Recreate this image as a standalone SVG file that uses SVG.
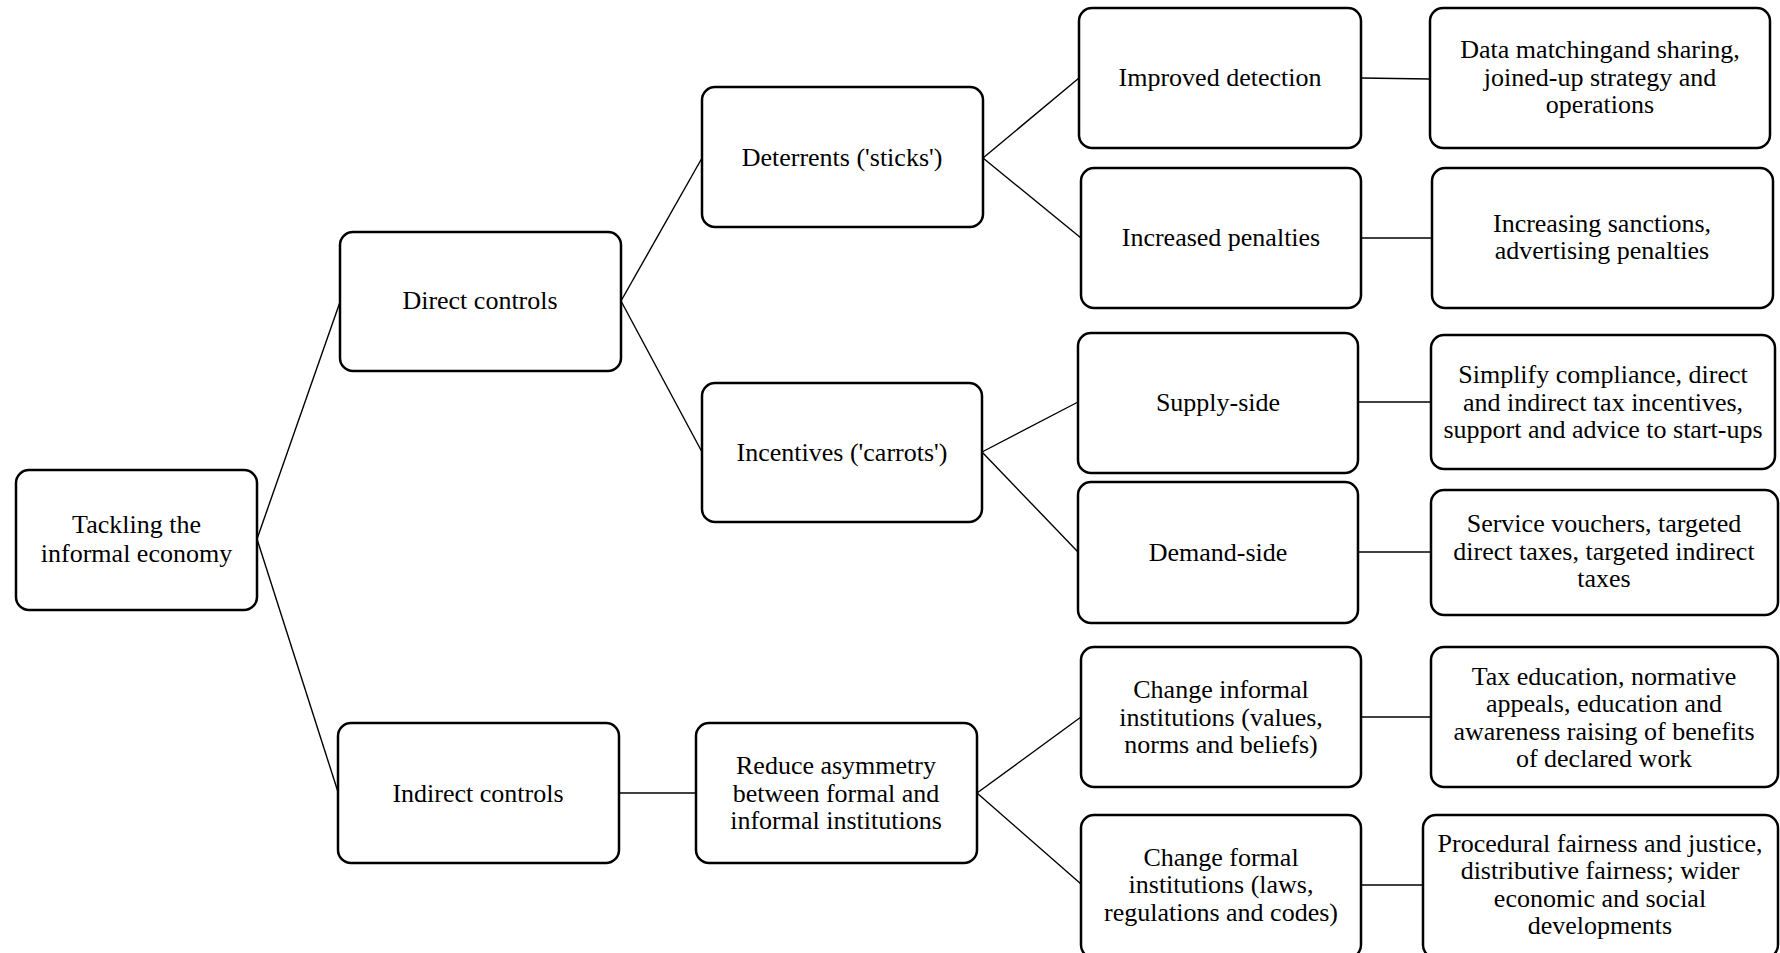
<svg xmlns="http://www.w3.org/2000/svg" width="1780" height="953" viewBox="0 0 1780 953">
<style>
.box{fill:#fff;stroke:#000;stroke-width:2.5}
.ln{stroke:#000;stroke-width:1.4;fill:none}
text{font-family:"Liberation Serif","Times New Roman",serif;font-size:26px;fill:#000;text-anchor:middle}
</style>
<rect width="1780" height="953" fill="#fff"/>
<g id="connectors">
<line class="ln" x1="257" y1="539" x2="340" y2="302"/>
<line class="ln" x1="257" y1="539" x2="338" y2="792"/>
<line class="ln" x1="621" y1="301" x2="702" y2="158"/>
<line class="ln" x1="621" y1="301" x2="702" y2="452"/>
<line class="ln" x1="619" y1="793" x2="696" y2="793"/>
<line class="ln" x1="983" y1="158" x2="1079" y2="78"/>
<line class="ln" x1="983" y1="158" x2="1081" y2="238"/>
<line class="ln" x1="982" y1="452" x2="1078" y2="402"/>
<line class="ln" x1="982" y1="452" x2="1078" y2="552"/>
<line class="ln" x1="977" y1="793" x2="1081" y2="717"/>
<line class="ln" x1="977" y1="793" x2="1081" y2="884"/>
<line class="ln" x1="1361" y1="78" x2="1430" y2="79"/>
<line class="ln" x1="1361" y1="238" x2="1432" y2="238"/>
<line class="ln" x1="1358" y1="402" x2="1431" y2="402"/>
<line class="ln" x1="1358" y1="552" x2="1431" y2="552"/>
<line class="ln" x1="1361" y1="717" x2="1431" y2="717"/>
<line class="ln" x1="1361" y1="885" x2="1423" y2="885"/>
</g>
<g id="n-tackling">
<rect class="box" x="16" y="470" width="241" height="140" rx="13"/>
<text x="136.5" y="533">Tackling the</text>
<text x="136.5" y="562">informal economy</text>
</g>
<g id="n-direct">
<rect class="box" x="340" y="232" width="281" height="139" rx="13"/>
<text x="480" y="309">Direct controls</text>
</g>
<g id="n-indirect">
<rect class="box" x="338" y="723" width="281" height="140" rx="13"/>
<text x="478" y="802">Indirect controls</text>
</g>
<g id="n-deterrents">
<rect class="box" x="702" y="87" width="281" height="140" rx="13"/>
<text x="842" y="166">Deterrents ('sticks')</text>
</g>
<g id="n-incentives">
<rect class="box" x="702" y="383" width="280" height="139" rx="13"/>
<text x="842" y="461">Incentives ('carrots')</text>
</g>
<g id="n-reduce">
<rect class="box" x="696" y="723" width="281" height="140" rx="13"/>
<text x="836" y="774">Reduce asymmetry</text>
<text x="836" y="802">between formal and</text>
<text x="836" y="829">informal institutions</text>
</g>
<g id="n-improved">
<rect class="box" x="1079" y="8" width="282" height="140" rx="13"/>
<text x="1220" y="86">Improved detection</text>
</g>
<g id="n-increased">
<rect class="box" x="1081" y="168" width="280" height="140" rx="13"/>
<text x="1221" y="246">Increased penalties</text>
</g>
<g id="n-supply">
<rect class="box" x="1078" y="333" width="280" height="140" rx="13"/>
<text x="1218" y="411">Supply-side</text>
</g>
<g id="n-demand">
<rect class="box" x="1078" y="482" width="280" height="141" rx="13"/>
<text x="1218" y="561">Demand-side</text>
</g>
<g id="n-change-informal">
<rect class="box" x="1081" y="647" width="280" height="140" rx="13"/>
<text x="1221" y="698">Change informal</text>
<text x="1221" y="726">institutions (values,</text>
<text x="1221" y="753">norms and beliefs)</text>
</g>
<g id="n-change-formal">
<rect class="box" x="1081" y="815" width="280" height="143" rx="13"/>
<text x="1221" y="866">Change formal</text>
<text x="1221" y="893">institutions (laws,</text>
<text x="1221" y="921">regulations and codes)</text>
</g>
<g id="n-data">
<rect class="box" x="1430" y="8" width="340" height="140" rx="13"/>
<text x="1600" y="58">Data matchingand sharing,</text>
<text x="1600" y="86">joined-up strategy and</text>
<text x="1600" y="113">operations</text>
</g>
<g id="n-sanctions">
<rect class="box" x="1432" y="168" width="341" height="140" rx="13"/>
<text x="1602" y="232">Increasing sanctions,</text>
<text x="1602" y="259">advertising penalties</text>
</g>
<g id="n-simplify">
<rect class="box" x="1431" y="335" width="344" height="134" rx="13"/>
<text x="1603" y="383">Simplify compliance, direct</text>
<text x="1603" y="411">and indirect tax incentives,</text>
<text x="1603" y="438">support and advice to start-ups</text>
</g>
<g id="n-service">
<rect class="box" x="1431" y="490" width="347" height="125" rx="13"/>
<text x="1604" y="532">Service vouchers, targeted</text>
<text x="1604" y="560">direct taxes, targeted indirect</text>
<text x="1604" y="587">taxes</text>
</g>
<g id="n-tax">
<rect class="box" x="1431" y="647" width="347" height="140" rx="13"/>
<text x="1604" y="685">Tax education, normative</text>
<text x="1604" y="712">appeals, education and</text>
<text x="1604" y="740">awareness raising of benefits</text>
<text x="1604" y="767">of declared work</text>
</g>
<g id="n-procedural">
<rect class="box" x="1423" y="815" width="355" height="143" rx="13"/>
<text x="1600" y="852">Procedural fairness and justice,</text>
<text x="1600" y="879">distributive fairness; wider</text>
<text x="1600" y="907">economic and social</text>
<text x="1600" y="934">developments</text>
</g>
</svg>
